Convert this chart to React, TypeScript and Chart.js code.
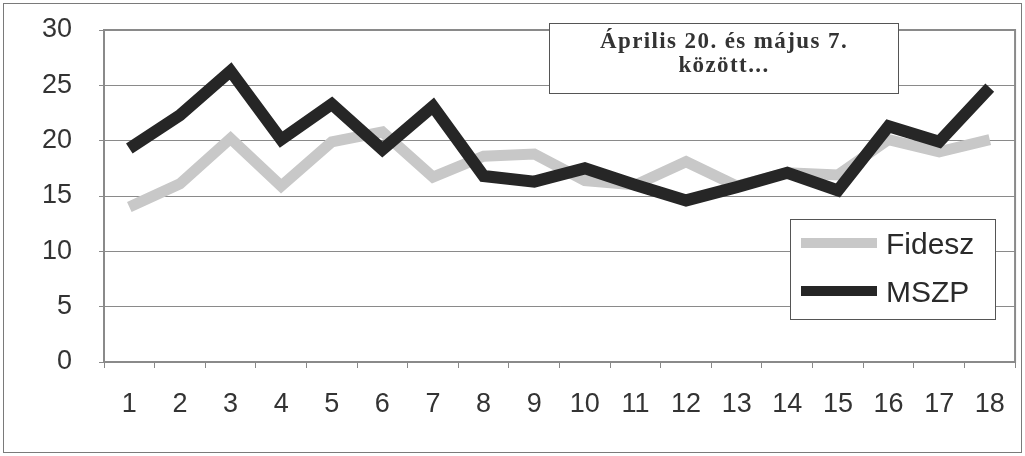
import React, { useEffect, useRef } from "react";
import { Chart, registerables } from "chart.js";

Chart.register(...registerables);

const categories = ["1", "2", "3", "4", "5", "6", "7", "8", "9", "10", "11", "12", "13", "14", "15", "16", "17", "18"];
const fideszValues = [14.0, 16.1, 20.2, 15.9, 19.9, 20.8, 16.7, 18.6, 18.8, 16.4, 16.0, 18.1, 15.9, 17.1, 16.9, 20.1, 19.0, 20.1];
const mszpValues = [19.3, 22.3, 26.3, 20.1, 23.3, 19.2, 23.1, 16.8, 16.3, 17.5, 16.0, 14.6, 15.8, 17.1, 15.5, 21.3, 19.9, 24.8];
const seriesLabels = ["Fidesz", "MSZP"];
const titleLines = ["Április 20. és május 7.", "között..."];

const FIDESZ_COLOR = "#c8c8c8";
const MSZP_COLOR = "#262626";

const decorPlugin = {
  id: "decor",
  beforeDatasetsDraw(chart: any) {
    const { ctx, chartArea } = chart;
    ctx.save();
    ctx.strokeStyle = "#8a8a8a";
    ctx.lineWidth = 2;
    ctx.strokeRect(chartArea.left, chartArea.top, chartArea.right - chartArea.left, chartArea.bottom - chartArea.top);
    ctx.restore();
  },
  afterDraw(chart: any) {
    const { ctx, width, height } = chart;
    ctx.save();
    // outer frame
    ctx.strokeStyle = "#7a7a7a";
    ctx.lineWidth = 1;
    ctx.strokeRect(3.5, 3.5, width - 7, height - 7);

    // title box
    ctx.fillStyle = "#ffffff";
    ctx.fillRect(549, 23, 349, 70);
    ctx.strokeStyle = "#555";
    ctx.strokeRect(549.5, 23.5, 349, 70);
    ctx.fillStyle = "#333";
    ctx.font = "bold 23px 'Liberation Serif', serif";
    ctx.textAlign = "center";
    ctx.textBaseline = "alphabetic";
    (ctx as any).letterSpacing = "1.4px";
    ctx.fillText(titleLines[0], 724, 48);
    ctx.fillText(titleLines[1], 724, 72);
    (ctx as any).letterSpacing = "0px";

    // legend box
    ctx.fillStyle = "#ffffff";
    ctx.fillRect(790, 219, 205, 100);
    ctx.strokeStyle = "#555";
    ctx.lineWidth = 1;
    ctx.strokeRect(790.5, 219.5, 205, 100);
    const rows = [
      { label: chart.data.datasets[0].label, color: chart.data.datasets[0].borderColor, y: 243 },
      { label: chart.data.datasets[1].label, color: chart.data.datasets[1].borderColor, y: 291 },
    ];
    ctx.font = "30px 'Liberation Sans', Arial, sans-serif";
    ctx.textAlign = "left";
    ctx.textBaseline = "middle";
    for (const r of rows) {
      ctx.strokeStyle = r.color;
      ctx.lineWidth = 10;
      ctx.beginPath();
      ctx.moveTo(801, r.y);
      ctx.lineTo(877, r.y);
      ctx.stroke();
      ctx.fillStyle = "#2a2a2a";
      ctx.fillText(r.label, 886, r.y + 3);
    }
    ctx.restore();
  },
};

export default function App() {
  const canvasRef = useRef<HTMLCanvasElement | null>(null);

  useEffect(() => {
    const canvas = canvasRef.current;
    if (!canvas) return;
    const chart = new Chart(canvas, {
      type: "line",
      data: {
        labels: categories,
        datasets: [
          {
            label: seriesLabels[0],
            data: fideszValues,
            borderColor: FIDESZ_COLOR,
            backgroundColor: FIDESZ_COLOR,
            borderWidth: 11,
            pointRadius: 0,
            tension: 0,
            borderJoinStyle: "miter",
            borderCapStyle: "butt",
            order: 1,
          },
          {
            label: seriesLabels[1],
            data: mszpValues,
            borderColor: MSZP_COLOR,
            backgroundColor: MSZP_COLOR,
            borderWidth: 12,
            pointRadius: 0,
            tension: 0,
            borderJoinStyle: "miter",
            borderCapStyle: "butt",
            order: 0,
          },
        ],
      },
      options: {
        responsive: false,
        animation: false,
        layout: { padding: { left: 0, top: 30, right: 8, bottom: 0 } },
        plugins: {
          legend: { display: false },
          title: { display: false },
          tooltip: { enabled: false },
        },
        scales: {
          x: {
            type: "category",
            offset: true,
            grid: {
              offset: true,
              drawOnChartArea: false,
              drawTicks: true,
              tickLength: 6,
              color: "#888",
            },
            border: { display: true, color: "#8a8a8a", width: 2 },
            ticks: {
              color: "#333",
              padding: 20,
              maxRotation: 0,
              autoSkip: false,
              font: { family: "'Liberation Sans', Arial, sans-serif", size: 27 },
            },
            afterFit(scale: any) {
              scale.height = 94;
            },
          },
          y: {
            min: 0,
            max: 30,
            ticks: {
              stepSize: 5,
              color: "#333",
              padding: 27,
              font: { family: "'Liberation Sans', Arial, sans-serif", size: 27 },
            },
            grid: {
              color: "#8a8a8a",
              lineWidth: 1,
              tickLength: 5,
              drawTicks: true,
            },
            border: { display: true, color: "#8a8a8a", width: 2 },
            afterFit(scale: any) {
              scale.width = 104;
              scale.paddingTop = 10;
              scale.paddingBottom = 10;
            },
          },
        },
      },
      plugins: [decorPlugin],
    });
    return () => chart.destroy();
  }, []);

  return (
    <div style={{ position: "absolute", left: 0, top: 0, width: 1025, height: 456, background: "#fff" }}>
      <canvas ref={canvasRef} width={1025} height={456} style={{ display: "block" }} />
    </div>
  );
}
